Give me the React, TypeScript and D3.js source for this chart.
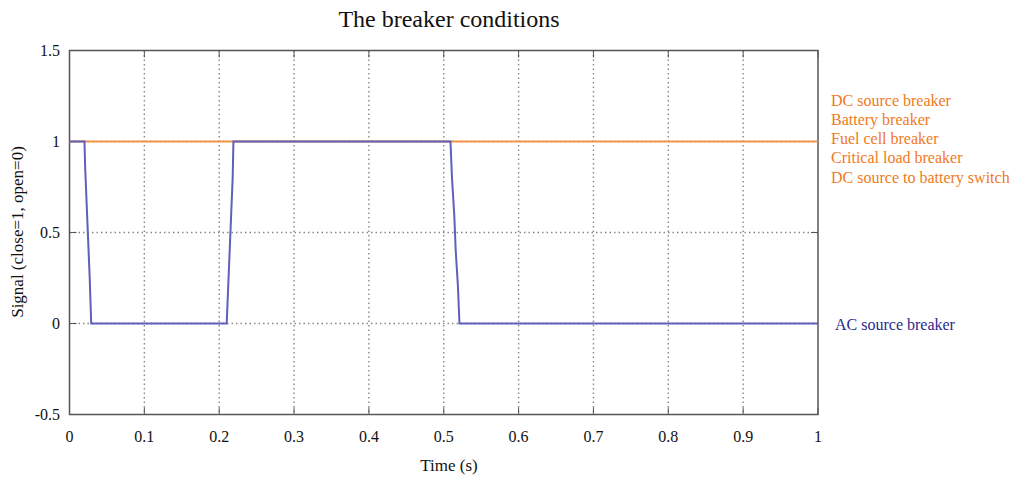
import React from "react";
import * as d3 from "d3";

const xTicks = [0, 0.1, 0.2, 0.3, 0.4, 0.5, 0.6, 0.7, 0.8, 0.9, 1];
const yTicks = [-0.5, 0, 0.5, 1, 1.5];
const dcTime = [0, 1];
const dcSignal = [1, 1];
const acTime = [0, 0.02, 0.021, 0.023, 0.025, 0.027, 0.029, 0.21, 0.212, 0.214, 0.216, 0.218, 0.219, 0.509, 0.511, 0.514, 0.516, 0.519, 0.521, 1];
const acSignal = [1, 1, 0.85, 0.65, 0.45, 0.25, 0, 0, 0.2, 0.4, 0.6, 0.8, 1, 1, 0.8, 0.6, 0.4, 0.2, 0, 0];
const dcLabels = ["DC source breaker", "Battery breaker", "Fuel cell breaker", "Critical load breaker", "DC source to battery switch"];
const acLabel = "AC source breaker";

export default function App() {
  const W = 1015, H = 491;
  const L = 69.5, R = 818, T = 50.5, B = 414.5;
  const x = d3.scaleLinear().domain([0, 1]).range([L, R]);
  const y = d3.scaleLinear().domain([-0.5, 1.5]).range([B, T]);
  const line = d3.line<[number, number]>().x(d => x(d[0])).y(d => y(d[1]));
  const dc = dcTime.map((t, i) => [t, dcSignal[i]] as [number, number]);
  const ac = acTime.map((t, i) => [t, acSignal[i]] as [number, number]);
  const font = "'Liberation Serif', 'Times New Roman', serif";
  return (
    <svg width={W} height={H} style={{ position: "absolute", left: 0, top: 0, background: "#fff" }} fontFamily={font}>
      <text x={449} y={27} textAnchor="middle" fontSize={24} fill="#111">The breaker conditions</text>
      {xTicks.slice(1, -1).map(t => (
        <line key={"gx" + t} x1={x(t)} x2={x(t)} y1={T} y2={B} stroke="#888" strokeWidth={1.4} strokeDasharray="1.5,3" />
      ))}
      {yTicks.slice(1, -1).map(t => (
        <line key={"gy" + t} x1={L} x2={R} y1={y(t)} y2={y(t)} stroke="#888" strokeWidth={1.4} strokeDasharray="1.5,3" />
      ))}
      {xTicks.map(t => (
        <g key={"tx" + t}>
          <line x1={x(t)} x2={x(t)} y1={B} y2={B - 7} stroke="#555" />
          <line x1={x(t)} x2={x(t)} y1={T} y2={T + 7} stroke="#555" />
          <text x={x(t)} y={442} textAnchor="middle" fontSize={16} fill="#111">{t === 0 || t === 1 ? String(t) : t.toFixed(1)}</text>
        </g>
      ))}
      {yTicks.map(t => (
        <g key={"ty" + t}>
          <line x1={L} x2={L + 7} y1={y(t)} y2={y(t)} stroke="#555" />
          <line x1={R} x2={R - 7} y1={y(t)} y2={y(t)} stroke="#555" />
          <text x={60} y={y(t) + 5.5} textAnchor="end" fontSize={16} fill="#111">{String(t)}</text>
        </g>
      ))}
      <rect x={L} y={T} width={R - L} height={B - T} fill="none" stroke="#555" strokeWidth={1.5} />
      <path d={line(dc) || ""} fill="none" stroke="#f5954a" strokeWidth={1.8} />
      <path d={line(ac) || ""} fill="none" stroke="#6060bb" strokeWidth={2} />
      {dcLabels.map((s, i) => (
        <text key={s} x={831} y={105.5 + i * 19.3} fontSize={16} fill="#f07a22">{s}</text>
      ))}
      <text x={835} y={329.5} fontSize={16} fill="#2a2a90">{acLabel}</text>
      <text x={449} y={471} textAnchor="middle" fontSize={17} fill="#111">Time (s)</text>
      <text transform="translate(23,232) rotate(-90)" textAnchor="middle" fontSize={17} fill="#111">Signal (close=1, open=0)</text>
    </svg>
  );
}
